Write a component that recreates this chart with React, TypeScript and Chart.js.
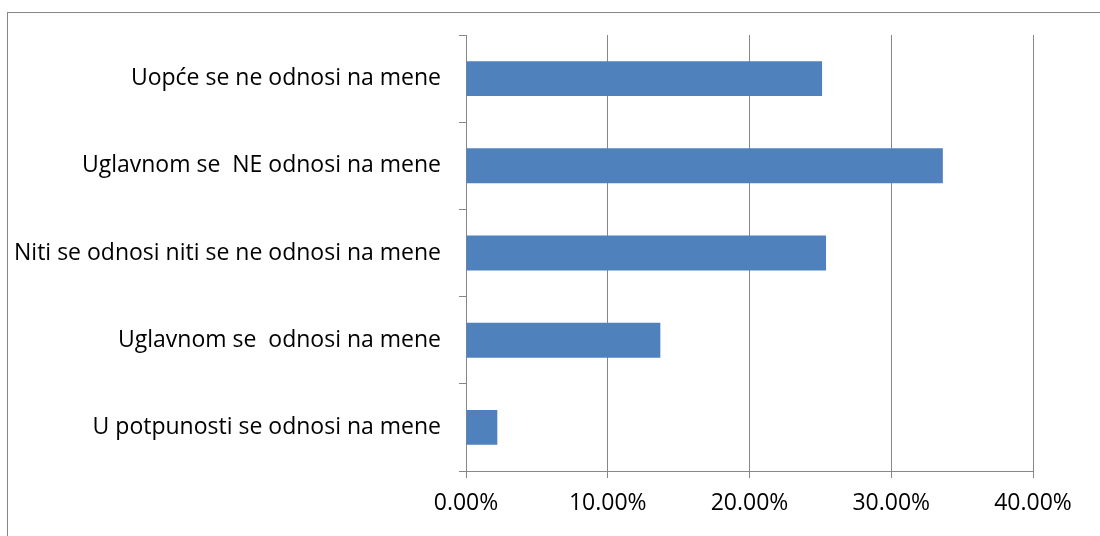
import React, { useEffect, useRef } from "react";
import { Chart, registerables } from "chart.js";

Chart.register(...registerables);

const categories = [
  "Uopće se ne odnosi na mene",
  "Uglavnom se  NE odnosi na mene",
  "Niti se odnosi niti se ne odnosi na mene",
  "Uglavnom se  odnosi na mene",
  "U potpunosti se odnosi na mene",
];
const values = [25.12, 33.64, 25.4, 13.71, 2.21];
const xTicks = [0, 10, 20, 30, 40];

const GRAY = "#878787";
const FONT = "'Open Sans', 'Noto Sans', sans-serif";

const framePlugin = {
  id: "frame",
  beforeDraw(chart: any) {
    const ctx = chart.ctx;
    ctx.save();
    ctx.fillStyle = "#fff";
    ctx.fillRect(0, 0, chart.width, chart.height);
    ctx.strokeStyle = GRAY;
    ctx.lineWidth = 1;
    ctx.strokeRect(7.5, 12.5, chart.width + 10, chart.height + 10);
    ctx.restore();
  },
};

export default function App() {
  const ref = useRef<HTMLCanvasElement>(null);
  useEffect(() => {
    document.body.style.margin = "0";
    const chart = new Chart(ref.current!, {
      type: "bar",
      data: {
        labels: categories,
        datasets: [
          {
            data: values,
            backgroundColor: "#4F81BD",
            borderColor: "#4F81BD",
            borderWidth: 0,
            barPercentage: 0.4,
            categoryPercentage: 1,
          },
        ],
      },
      options: {
        indexAxis: "y",
        animation: false,
        responsive: false,
        maintainAspectRatio: false,
        layout: { padding: { top: 35, right: 67, left: 0, bottom: 0 } },
        plugins: { legend: { display: false }, tooltip: { enabled: false } },
        scales: {
          x: {
            min: 0,
            max: 40,
            afterBuildTicks(scale: any) {
              scale.ticks = xTicks.map((v) => ({ value: v }));
            },
            afterFit(scale: any) {
              scale.height = 65;
            },
            grid: {
              color: GRAY,
              lineWidth: 1,
              drawTicks: true,
              tickLength: 7,
              tickColor: GRAY,
            },
            border: { color: GRAY, width: 1 },
            ticks: {
              color: "#000",
              padding: 12,
              font: { family: FONT, size: 23 },
              callback: (v: any) => Number(v).toFixed(2) + "%",
            },
          },
          y: {
            afterFit(scale: any) {
              scale.width = 466;
            },
            grid: {
              offset: true,
              drawOnChartArea: false,
              drawTicks: true,
              tickLength: 7,
              color: GRAY,
              tickColor: GRAY,
            },
            border: { color: GRAY, width: 1 },
            ticks: {
              color: "#000",
              padding: 18,
              font: { family: FONT, size: 23 },
            },
          },
        },
      },
      plugins: [framePlugin],
    } as any);
    return () => chart.destroy();
  }, []);
  return (
    <div style={{ width: 1100, height: 536 }}>
      <canvas ref={ref} width={1100} height={536} style={{ display: "block" }} />
    </div>
  );
}
